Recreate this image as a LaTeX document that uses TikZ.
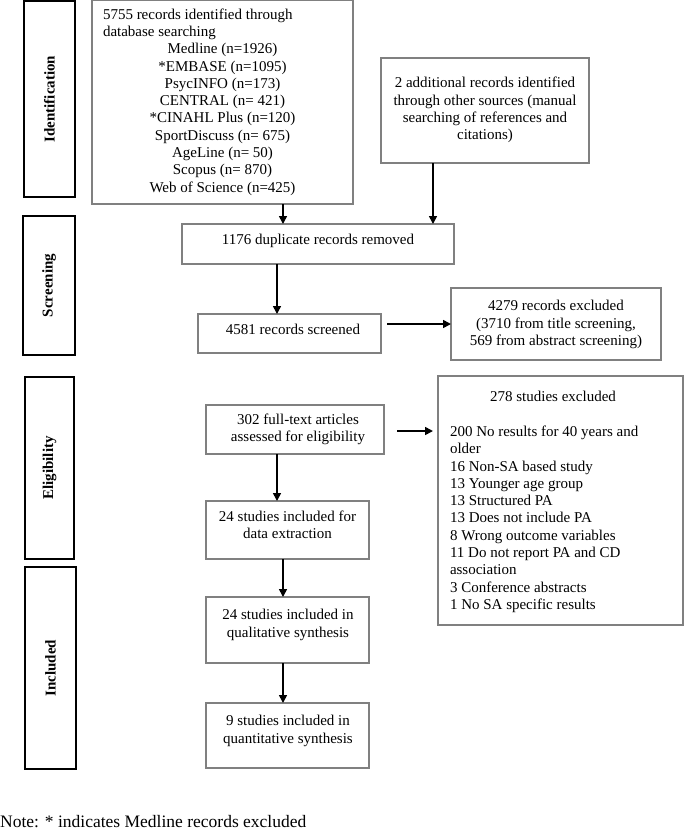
\documentclass[tikz,border=0pt]{standalone}
\usepackage{fontspec}
\setmainfont{Liberation Serif}
\usetikzlibrary{arrows.meta,calc}
\definecolor{boxgray}{RGB}{128,128,128}
\begin{document}
\begin{tikzpicture}[x=1pt,y=-1pt,
  box/.style={draw=boxgray, line width=1.1pt, inner sep=0pt, outer sep=0pt},
  stage/.style={draw=black, line width=2pt, inner sep=0pt, outer sep=0pt, rotate=90,
    font=\fontsize{15}{17.3}\selectfont\bfseries},
  txt/.style={inner sep=0pt, outer sep=0pt, font=\fontsize{15}{17.3}\selectfont, align=center},
  arr/.style={-{Triangle[width=8pt,length=8pt]}, line width=1.6pt, draw=black}]
\useasboundingbox (0,0) rectangle (685,831);

% stage labels
\node[stage, minimum width=196pt, minimum height=51pt] (idlab) at (49.5,99) {Identification};
\node[stage, minimum width=139pt, minimum height=52pt] (scrlab) at (49,285.5) {Screening};
\node[stage, minimum width=182pt, minimum height=49pt] (elilab) at (49.5,468) {Eligibility};
\node[stage, minimum width=202pt, minimum height=51pt] (inclab) at (50.5,668) {Included};

% boxes
\node[box, minimum width=261pt, minimum height=203.5pt] (big) at (222.5,102.25) {};
\node[box, minimum width=208pt, minimum height=105pt] (add) at (485,110.5) {};
\node[box, minimum width=272pt, minimum height=40pt] (dup) at (318,244) {};
\node[box, minimum width=183pt, minimum height=39pt] (scr) at (289.5,333.5) {};
\node[box, minimum width=210pt, minimum height=72pt] (exc1) at (556,324) {};
\node[box, minimum width=178pt, minimum height=49pt] (full) at (295,429.5) {};
\node[box, minimum width=245pt, minimum height=249pt] (exc2) at (560.5,500.5) {};
\node[box, minimum width=163pt, minimum height=58pt] (dat) at (287.5,530) {};
\node[box, minimum width=163pt, minimum height=66pt] (qual) at (287.5,630) {};
\node[box, minimum width=163pt, minimum height=65pt] (quant) at (287.5,735.5) {};

% texts
\node[txt] (bigT) at (222.5,102) {\parbox{239pt}{\raggedright 5755 records identified through\\database searching\par
  \centering Medline (n=1926)\\{}*EMBASE (n=1095)\\PsycINFO (n=173)\\CENTRAL (n= 421)\\{}*CINAHL Plus (n=120)\\SportDiscuss (n= 675)\\AgeLine (n= 50)\\Scopus (n= 870)\\Web of Science (n=425)\par}};
\node[txt] (addT) at (485,110) {2 additional records identified\\through other sources (manual\\searching of references and\\citations)};
\node[txt] (dupT) at (318,240.5) {1176 duplicate records removed};
\node[txt] (scrT) at (293,329.5) {4581 records screened};
\node[txt] (exc1T) at (556,324.5) {4279 records excluded\\(3710 from title screening,\\569 from abstract screening)};
\node[txt] (fullT) at (298,429.5) {302 full-text articles\\assessed for eligibility};
\node[txt] (exc2T) at (553,502) {\parbox{206pt}{\centering 278 studies excluded\par\vspace{17.3pt}
  \raggedright 200 No results for 40 years and\\older\\16 Non-SA based study\\13 Younger age group\\13 Structured PA\\13 Does not include PA\\8 Wrong outcome variables\\11 Do not report PA and CD\\association\\3 Conference abstracts\\1 No SA specific results\par}};
\node[txt] (datT) at (287.5,525) {24 studies included for\\data extraction};
\node[txt] (qualT) at (288,625) {24 studies included in\\qualitative synthesis};
\node[txt] (quantT) at (288,731) {9 studies included in\\quantitative synthesis};

\node[inner sep=0pt, anchor=west, font=\fontsize{17.5}{20}\selectfont] (note) at (0,821.5) {Note: * indicates Medline records excluded};

% arrows
\coordinate (a1) at ([xshift=60.5pt]big.south);
\draw[arr] (a1) -- (a1 |- dup.north);
\coordinate (a2) at ([xshift=-52pt]add.south);
\draw[arr] (a2) -- (a2 |- dup.north);
\coordinate (a3) at ([xshift=-41pt]dup.south);
\draw[arr] (a3) -- (a3 |- scr.north);
\coordinate (a4) at ([xshift=6pt,yshift=-2pt]scr.east);
\draw[arr] (a4 |- exc1.west) -- (exc1.west);
\coordinate (a5) at ([xshift=13pt,yshift=-1.5pt]full.east);
\draw[arr, shorten >=5pt] (a5) -- (a5 -| exc2.west);
\coordinate (a6) at ([xshift=-18pt]full.south);
\draw[arr] (a6) -- (a6 |- dat.north);
\coordinate (a7) at ([xshift=-4.5pt]dat.south);
\draw[arr] (a7) -- (a7 |- qual.north);
\coordinate (a8) at ([xshift=-4.5pt]qual.south);
\draw[arr] (a8) -- (a8 |- quant.north);
\end{tikzpicture}
\end{document}
